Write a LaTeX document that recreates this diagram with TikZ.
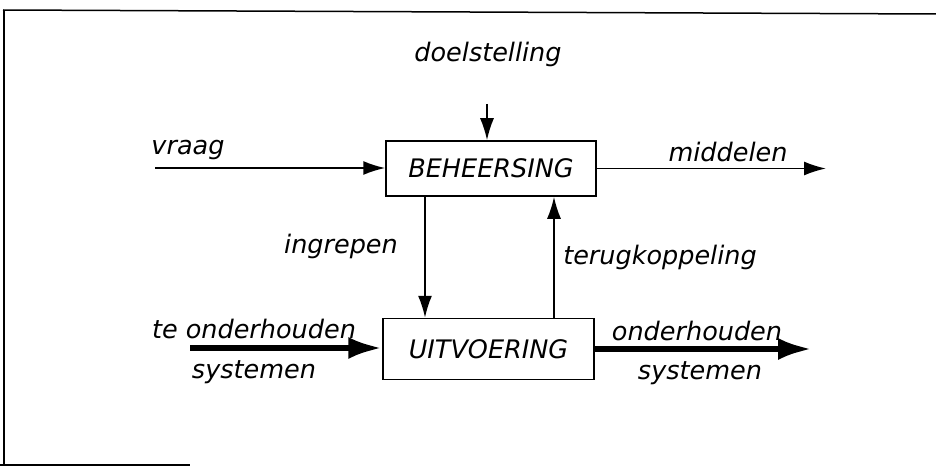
\documentclass[tikz,border=0pt]{standalone}
\usepackage{fontspec}
\setmainfont{DejaVu Sans}
\usetikzlibrary{arrows.meta}
\begin{document}
\begin{tikzpicture}[x=1pt,y=-1pt,
  lbl/.style={font=\fontsize{25.5}{28}\selectfont\itshape, inner sep=0pt},
  blk/.style={draw, line width=1.5pt, inner sep=0pt,
    font=\fontsize{25.5}{28}\selectfont\itshape},
  flow/.style={line width=1.8pt, -{Latex[length=22pt,width=14pt]}},
  heavy/.style={line width=6pt, -{Latex[length=34pt,width=22pt]}},
  frame/.style={line width=1.5pt}]
\useasboundingbox (0,0) rectangle (936,468);

% partial outer frame
\draw[frame] (3,10) -- (936,14);
\draw[frame] (4,10) -- (4,465);
\draw[frame] (0,465) -- (190,465);

% the two blocks
\node[blk, minimum width=210pt, minimum height=55pt] (beh) at (491,168.5) {BEHEERSING};
\node[blk, minimum width=211pt, minimum height=61pt] (uit) at (488.5,349) {UITVOERING};

% free ends of the connectors
\coordinate (doel) at (487,104);
\coordinate (vraagS) at (155,168);
\coordinate (midE) at (826,168.5);
\coordinate (ing) at (425,0);
\coordinate (ter) at (554,0);
\coordinate (inS) at (190,348);
\coordinate (outE) at (812,349);

% connectors
\draw[flow] (doel) -- (doel |- beh.north);
\draw[flow] (vraagS) -- (vraagS -| beh.west);
\draw[flow] (beh.east) -- (midE);
\draw[flow] (ing |- beh.south) -- (ing |- uit.north);
\draw[flow] (ter |- uit.north) -- (ter |- beh.south);
\draw[heavy] (inS) -- (inS -| uit.west);
\draw[heavy] (uit.east) -- (outE);

% labels
\node[lbl] (tdoel) at (488,54) {doelstelling};
\node[lbl] (tvraag) at (188,150) {vraag};
\node[lbl] (tmid) at (728,152) {middelen};
\node[lbl] (ting) at (341,246) {ingrepen};
\node[lbl] (tter) at (660,257) {terugkoppeling};
\node[lbl] (tin1) at (254,329) {te onderhouden};
\node[lbl] (tin2) at (254,372) {systemen};
\node[lbl] (tout1) at (697,331) {onderhouden};
\node[lbl] (tout2) at (700,373) {systemen};
\end{tikzpicture}
\end{document}
